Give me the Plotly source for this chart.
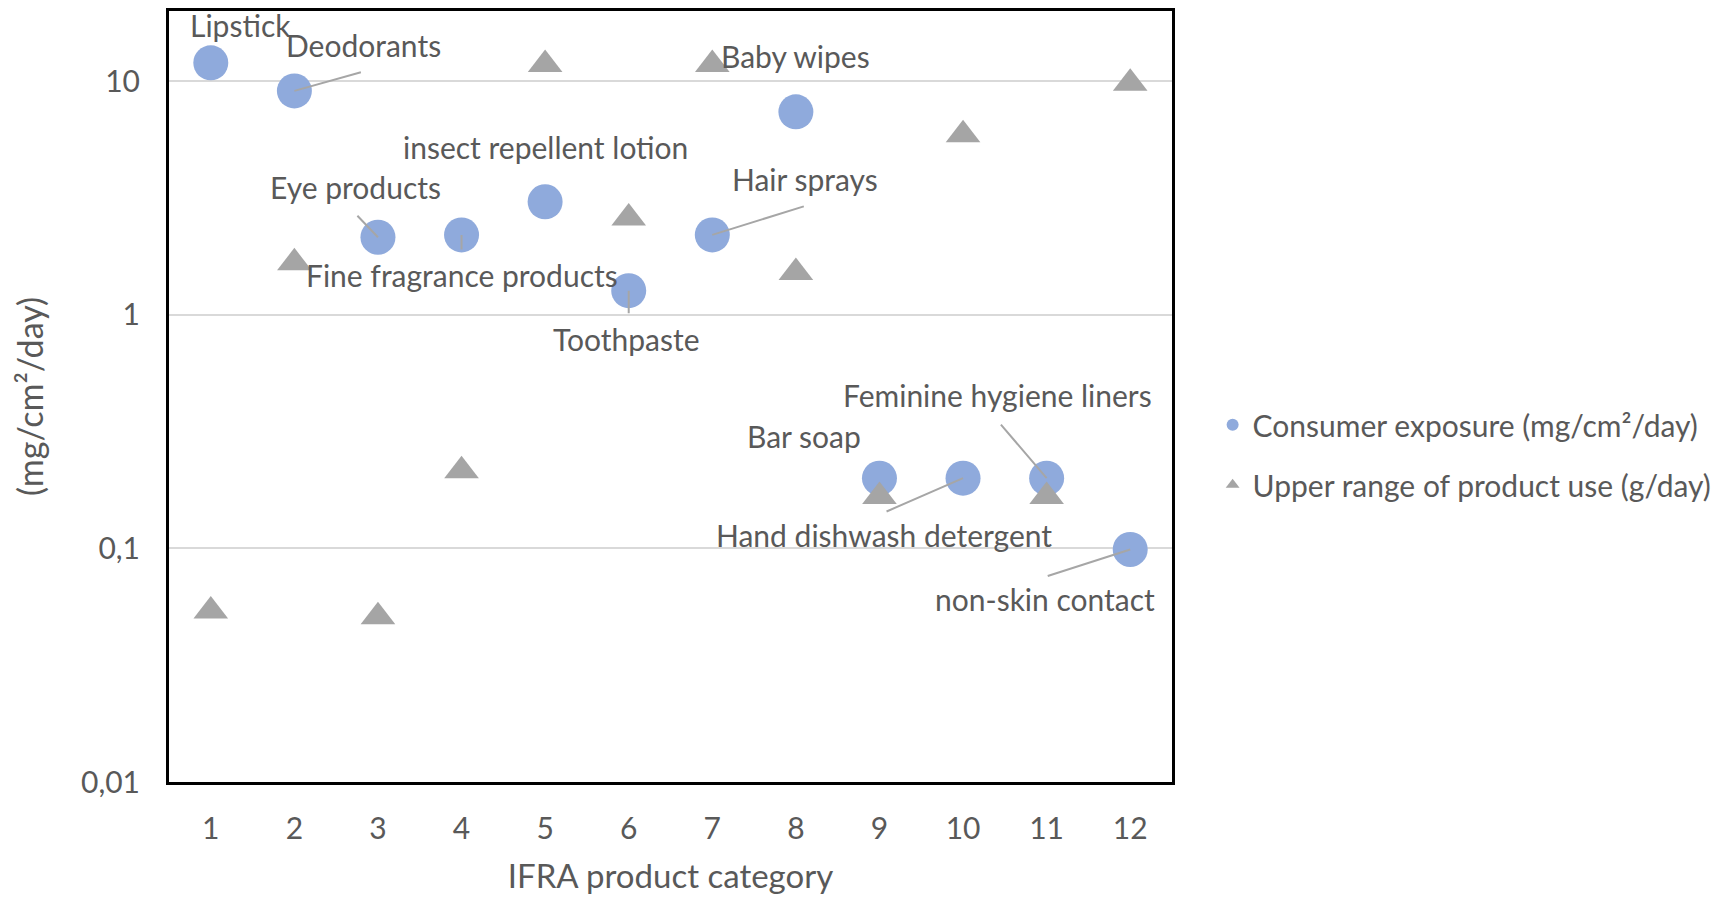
import math
import plotly.graph_objects as go

# ---- data -------------------------------------------------------------
categories = list(range(1, 13))
consumer_exposure = [12.0, 9.1, 2.15, 2.2, 3.05, 1.27, 2.2, 7.4, 0.2, 0.2, 0.2, 0.099]
upper_product_use = [0.054, 1.67, 0.051, 0.215, 11.8, 2.6, 11.8, 1.52, 0.167, 5.9, 0.167, 9.8]
product_labels = [
    "Lipstick", "Deodorants", "Eye products", "Fine fragrance products",
    "insect repellent lotion", "Toothpaste", "Hair sprays", "Baby wipes",
    "Bar soap", "Hand dishwash detergent", "Feminine hygiene liners",
    "non-skin contact",
]
y_tick_values = [0.01, 0.1, 1, 10]
y_tick_text = ["0,01", "0,1", "1", "10"]

# ---- label placement (pixel offsets of label centre from its point) ----
label_offsets = [
    (30, -38), (69, -46), (-22, -50), (0, 40), (0, -55), (-2, 48),
    (93, -56), (0, -56), (-75, -42), (-79, 57), (-49, -83), (-85, 50),
]
# leader line start (pixel offset from point); None = no leader line
leader_offsets = [
    None, (68, -19), (-22, -23), (0, 16), None, (0, 24),
    (93, -29), None, None, (-78, 34), (-47, -55), (-84, 27),
]

FONT = "Lato"
TEXT_COLOR = "#595959"
FONT_SIZE = 30

fig = go.Figure()
fig.add_trace(go.Scatter(
    x=categories, y=consumer_exposure, mode="markers",
    name="Consumer exposure (mg/cm²/day)", legendgroup="a",
    marker=dict(symbol="circle", size=35, color="#8FAADC"),
))
fig.add_trace(go.Scatter(
    x=categories, y=upper_product_use, mode="markers",
    name="Upper range of product use (g/day)", legendgroup="b",
    marker=dict(symbol="triangle-up", size=30, color="#A5A5A5"),
))

# leader lines
for cat, val, lead in zip(categories, consumer_exposure, leader_offsets):
    if lead is None:
        continue
    fig.add_annotation(
        x=cat, y=math.log10(val), xref="x", yref="y", text="",
        showarrow=True, arrowhead=0, arrowwidth=2, arrowcolor="#A6A6A6",
        ax=lead[0], ay=lead[1], standoff=0, startstandoff=0,
    )

# data labels
for cat, val, name, off in zip(categories, consumer_exposure, product_labels, label_offsets):
    fig.add_annotation(
        x=cat, y=math.log10(val), xref="x", yref="y", text=name,
        showarrow=False, xanchor="center", yanchor="middle",
        xshift=off[0], yshift=-off[1],
        font=dict(family=FONT, size=FONT_SIZE, color=TEXT_COLOR),
    )

fig.update_layout(
    width=1725, height=897,
    margin=dict(l=169, r=552, t=8, b=113),
    paper_bgcolor="white", plot_bgcolor="white",
    font=dict(family=FONT, size=FONT_SIZE, color=TEXT_COLOR),
    showlegend=True,
    legend=dict(
        x=1.0405, xanchor="left", y=0.497, yanchor="top",
        itemsizing="constant", tracegroupgap=18,
        font=dict(family=FONT, size=FONT_SIZE, color=TEXT_COLOR),
        bgcolor="rgba(0,0,0,0)",
    ),
    hovermode=False,
)

fig.update_xaxes(
    range=[0.5, 12.5], tickmode="array", tickvals=categories,
    ticktext=[str(c) for c in categories],
    showgrid=False, zeroline=False,
    showline=True, linecolor="black", linewidth=3, mirror=True,
    ticks="", ticklabelstandoff=18,
    title=dict(text="IFRA product category", standoff=21,
               font=dict(family=FONT, size=33, color=TEXT_COLOR)),
)
fig.update_yaxes(
    type="log", range=[-2, math.log10(20)],
    tickmode="array", tickvals=y_tick_values, ticktext=y_tick_text,
    showgrid=True, gridcolor="#D9D9D9", gridwidth=2, zeroline=False,
    showline=True, linecolor="black", linewidth=3, mirror=True,
    ticks="", ticklabelstandoff=20,
    title=dict(text="(mg/cm²/day)", standoff=28,
               font=dict(family=FONT, size=34, color=TEXT_COLOR)),
)

fig.write_html("out.html")
